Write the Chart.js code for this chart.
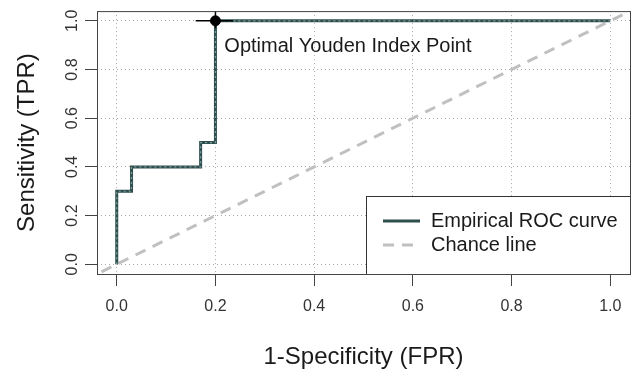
<!DOCTYPE html>
<html>
<head>
<meta charset="utf-8">
<script src="https://cdn.jsdelivr.net/npm/chart.js@4.4.1/dist/chart.umd.min.js"></script>
<style>
  html, body { margin: 0; padding: 0; background: #fff; }
  #wrap { width: 636px; height: 374px; }
</style>
</head>
<body>
<div id="wrap"><canvas id="roc" width="636" height="374"></canvas></div>
<script>
// empirical ROC steps
const fpr = [0, 0, 0.03, 0.03, 0.17, 0.17, 0.2, 0.2, 1.0];
const tpr = [0, 0.3, 0.3, 0.4, 0.4, 0.5, 0.5, 1.0, 1.0];

// chance line (y = x), runs past the plot box and gets clipped
const chanceX = [-0.1, 1.1];
const chanceY = [-0.1, 1.1];

// optimal Youden point and its cross marks
const optX = [0.2];
const optY = [1.0];
const crossHX = [0.16, 0.236];
const crossHY = [1.0, 1.0];
const crossVX = [0.2, 0.2];
const crossVY = [0.97, 1.1];

const xTicks = [0, 0.2, 0.4, 0.6, 0.8, 1.0];
const yTicks = [0, 0.2, 0.4, 0.6, 0.8, 1.0];
const axisRange = [-0.04, 1.04];

const annText = "Optimal Youden Index Point";
const annPos = [0.218, 0.893];

const legendLabels = ["Empirical ROC curve", "Chance line"];

const FONT = "'Liberation Sans', Arial, Helvetica, sans-serif";
const curveColor = "#2f4f4f";
const chanceColor = "#c0c0c0";

const pts = (xs, ys) => xs.map((x, i) => ({ x: x, y: ys[i] }));

const boxPlugin = {
  id: "boxAndNotes",
  afterDatasetsDraw(chart) {
    const ctx = chart.ctx;
    const a = chart.chartArea;
    const xs = chart.scales.x, ys = chart.scales.y;

    // annotation text
    ctx.save();
    ctx.font = "20px " + FONT;
    ctx.fillStyle = "#1a1a1a";
    ctx.textAlign = "left";
    ctx.textBaseline = "middle";
    ctx.fillText(annText, xs.getPixelForValue(annPos[0]), ys.getPixelForValue(annPos[1]));
    ctx.restore();

    // legend box in the bottom right corner
    const lw = 264, lh = 78;
    const lx = a.right - lw, ly = a.bottom - lh;
    ctx.save();
    ctx.fillStyle = "#fff";
    ctx.fillRect(lx, ly, lw, lh);
    ctx.strokeStyle = "#333";
    ctx.lineWidth = 1;
    ctx.strokeRect(lx + 0.5, ly + 0.5, lw, lh);

    const rows = [ly + 25, ly + 49];
    ctx.lineWidth = 3;
    ctx.strokeStyle = curveColor;
    ctx.beginPath();
    ctx.moveTo(lx + 17, rows[0]);
    ctx.lineTo(lx + 54, rows[0]);
    ctx.stroke();

    ctx.strokeStyle = chanceColor;
    ctx.setLineDash([11, 8]);
    ctx.beginPath();
    ctx.moveTo(lx + 17, rows[1]);
    ctx.lineTo(lx + 54, rows[1]);
    ctx.stroke();
    ctx.setLineDash([]);

    ctx.font = "20px " + FONT;
    ctx.fillStyle = "#1a1a1a";
    ctx.textAlign = "left";
    ctx.textBaseline = "middle";
    legendLabels.forEach((t, i) => ctx.fillText(t, lx + 65, rows[i]));

    // plot frame
    ctx.strokeStyle = "#444";
    ctx.lineWidth = 1;
    ctx.strokeRect(a.left + 0.5, a.top + 0.5, a.right - a.left, a.bottom - a.top);
    ctx.restore();
  }
};

new Chart(document.getElementById("roc"), {
  type: "scatter",
  data: {
    datasets: [
      {
        label: "Chance line",
        data: pts(chanceX, chanceY),
        showLine: true,
        borderColor: chanceColor,
        borderWidth: 3,
        borderDash: [11, 8],
        pointRadius: 0,
        clip: 0,
        order: 5
      },
      {
        label: "Empirical ROC curve",
        data: pts(fpr, tpr),
        showLine: true,
        borderColor: curveColor,
        borderWidth: 3,
        pointRadius: 0,
        clip: 0,
        order: 4
      },
      {
        label: "curve dots",
        data: pts(fpr, tpr),
        showLine: true,
        borderColor: "#7c9e9b",
        borderWidth: 1.2,
        borderDash: [2, 3],
        pointRadius: 0,
        clip: 0,
        order: 3
      },
      {
        label: "cross h",
        data: pts(crossHX, crossHY),
        showLine: true,
        borderColor: "#000",
        borderWidth: 1.5,
        pointRadius: 0,
        clip: 0,
        order: 2
      },
      {
        label: "cross v",
        data: pts(crossVX, crossVY),
        showLine: true,
        borderColor: "#000",
        borderWidth: 1.5,
        pointRadius: 0,
        clip: 0,
        order: 2
      },
      {
        label: "Optimal point",
        data: pts(optX, optY),
        pointRadius: 5,
        pointBackgroundColor: "#000",
        pointBorderColor: "#000",
        clip: false,
        order: 1
      }
    ]
  },
  options: {
    responsive: false,
    devicePixelRatio: 1,
    animation: false,
    layout: { padding: { top: 9, right: 4, left: 0, bottom: 0 } },
    plugins: {
      legend: { display: false },
      tooltip: { enabled: false }
    },
    scales: {
      x: {
        type: "linear",
        min: axisRange[0],
        max: axisRange[1],
        afterBuildTicks: (s) => { s.ticks = xTicks.map(v => ({ value: v })); },
        afterFit: (s) => { s.height = 100; },
        border: { display: false, dash: [1, 3] },
        grid: { color: "#a8a8a8", lineWidth: 1, tickLength: 12, tickColor: "#444", tickBorderDash: [] },
        ticks: {
          padding: 11,
          color: "#333",
          font: { family: FONT, size: 16 },
          maxRotation: 0,
          callback: (v) => Number(v).toFixed(1)
        },
        title: {
          display: true,
          text: "1-Specificity (FPR)",
          color: "#1a1a1a",
          font: { family: FONT, size: 24, lineHeight: 1 },
          padding: { top: 0, bottom: 5 }
        }
      },
      y: {
        type: "linear",
        min: axisRange[0],
        max: axisRange[1],
        afterBuildTicks: (s) => { s.ticks = yTicks.map(v => ({ value: v })); },
        afterFit: (s) => { s.width = 97; },
        border: { display: false, dash: [1, 3] },
        grid: { color: "#a8a8a8", lineWidth: 1, tickLength: 12, tickColor: "#444", tickBorderDash: [] },
        ticks: {
          padding: 1.5,
          color: "#333",
          minRotation: 90,
          maxRotation: 90,
          crossAlign: "center",
          font: { family: FONT, size: 16 },
          callback: (v) => Number(v).toFixed(1)
        },
        title: {
          display: true,
          text: "Sensitivity (TPR)",
          color: "#1a1a1a",
          font: { family: FONT, size: 24, lineHeight: 1 },
          padding: { top: 15, bottom: 0 }
        }
      }
    }
  },
  plugins: [boxPlugin]
});
</script>
</body>
</html>
